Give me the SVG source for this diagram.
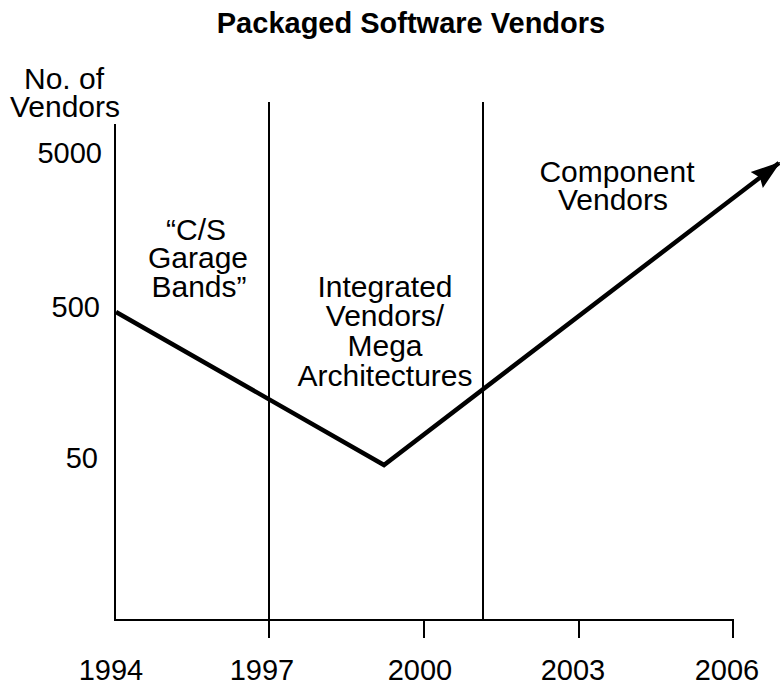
<svg xmlns="http://www.w3.org/2000/svg" width="780" height="685" viewBox="0 0 780 685">
  <style>
    text { font-family: "Liberation Sans", Arial, sans-serif; font-size: 30px; fill: #000; }
    .title { font-weight: bold; font-size: 29px; }
    .num { font-size: 29px; }
    .axis { stroke: #000; stroke-width: 2; fill: none; }
    .data { stroke: #000; stroke-width: 4.5; fill: none; stroke-linejoin: miter; }
  </style>
  <defs>
    <marker id="arrow" markerUnits="userSpaceOnUse" markerWidth="30" markerHeight="24" viewBox="0 0 30 24" refX="28" refY="12" orient="auto">
      <path d="M0,2 L30,12 L0,22 L4,12 Z" fill="#000"/>
    </marker>
  </defs>
  <rect width="780" height="685" fill="#fff"/>

  <g id="title">
    <text class="title" x="411" y="33" text-anchor="middle">Packaged Software Vendors</text>
  </g>

  <g id="axes">
    <line class="axis" x1="115" y1="124" x2="115" y2="620"/>
    <line class="axis" x1="114" y1="620" x2="733" y2="620"/>
    <line class="axis" x1="269" y1="102" x2="269" y2="638"/>
    <line class="axis" x1="483" y1="102" x2="483" y2="620"/>
    <line class="axis" x1="424" y1="620" x2="424" y2="638"/>
    <line class="axis" x1="579" y1="620" x2="579" y2="638"/>
    <line class="axis" x1="733" y1="619" x2="733" y2="638"/>
  </g>

  <g id="y-labels">
    <text x="64" y="89" text-anchor="middle">No. of</text>
    <text x="65" y="117" text-anchor="middle">Vendors</text>
    <text class="num" x="102" y="163" text-anchor="end">5000</text>
    <text class="num" x="100" y="317" text-anchor="end">500</text>
    <text class="num" x="98" y="468" text-anchor="end">50</text>
  </g>

  <g id="x-labels">
    <text class="num" x="111" y="680" text-anchor="middle">1994</text>
    <text class="num" x="262" y="680" text-anchor="middle">1997</text>
    <text class="num" x="420" y="680" text-anchor="middle">2000</text>
    <text class="num" x="573" y="680" text-anchor="middle">2003</text>
    <text class="num" x="727" y="680" text-anchor="middle">2006</text>
  </g>

  <g id="era-garage">
    <text x="196" y="240" text-anchor="middle">“C/S</text>
    <text x="198" y="268" text-anchor="middle">Garage</text>
    <text x="199" y="297" text-anchor="middle">Bands”</text>
  </g>

  <g id="era-integrated">
    <text x="385" y="297" text-anchor="middle">Integrated</text>
    <text x="385" y="326" text-anchor="middle">Vendors/</text>
    <text x="385" y="356" text-anchor="middle">Mega</text>
    <text x="385" y="386" text-anchor="middle">Architectures</text>
  </g>

  <g id="era-component">
    <text x="617" y="182" text-anchor="middle">Component</text>
    <text x="613" y="210" text-anchor="middle">Vendors</text>
  </g>

  <g id="connectors">
    <polyline class="data" points="116,312 384,465 779,163" marker-end="url(#arrow)"/>
  </g>
</svg>
